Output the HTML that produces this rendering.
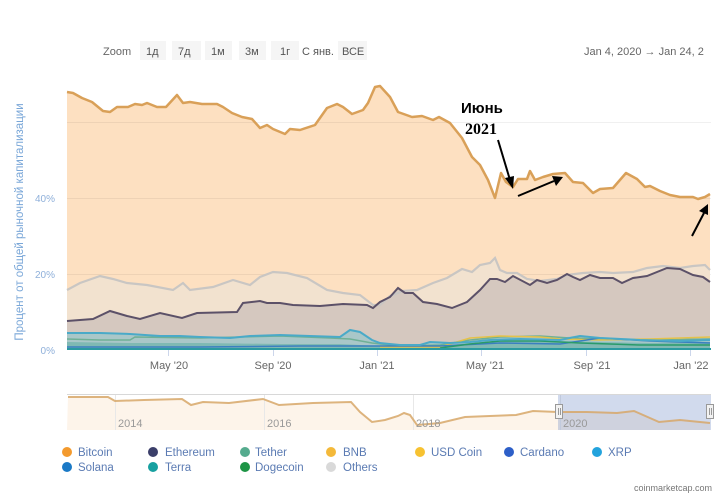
<!DOCTYPE html>
<html><head><meta charset="utf-8"><style>
html,body{margin:0;padding:0;background:#fff;}
body{width:720px;height:495px;overflow:hidden;font-family:"Liberation Sans","Noto Sans CJK SC",sans-serif;}
</style></head><body>
<svg width="720" height="495" viewBox="0 0 720 495" xmlns="http://www.w3.org/2000/svg" font-family="Liberation Sans, sans-serif">
<rect width="720" height="495" fill="#fff"/>
<!-- zoom bar -->
<text x="103" y="55" font-size="11" fill="#666">Zoom</text>
<g font-size="11" fill="#555">
<rect x="140" y="41" width="26" height="19" fill="#f5f5f5"/><text x="146" y="55">1д</text>
<rect x="172" y="41" width="29" height="19" fill="#f5f5f5"/><text x="178" y="55">7д</text>
<rect x="205" y="41" width="27" height="19" fill="#f5f5f5"/><text x="211" y="55">1м</text>
<rect x="239" y="41" width="27" height="19" fill="#f5f5f5"/><text x="245" y="55">3м</text>
<rect x="271" y="41" width="28" height="19" fill="#f5f5f5"/><text x="280" y="55">1г</text>
<text x="302" y="55">С янв.</text>
<rect x="338" y="41" width="29" height="19" fill="#f5f5f5"/><text x="342" y="55">ВСЕ</text>
</g>
<text x="584" y="55" font-size="11" fill="#666">Jan 4, 2020  →  Jan 24, 2</text>

<!-- y axis title -->
<text transform="translate(23,222) rotate(-90)" text-anchor="middle" font-size="11.5" fill="#7aa7d8">Процент от общей рыночной капитализации</text>
<g font-size="10" fill="#8fb0da" text-anchor="end">
<text x="55" y="202">40%</text>
<text x="55" y="278">20%</text>
<text x="55" y="354">0%</text>
</g>

<!-- bitcoin area -->
<polygon fill="#fde0c1" points="67,350 67,92 73,93 82,98 92,102 103,111 110,112 117,107 128,107 135,104 142,105 147,103 157,107 166,107 177,95 183,103 190,102 202,104 217,104 223,107 232,113 242,117 252,119 260,128 267,125 273,129 285,134 290,129 300,130 315,125 327,108 337,104 343,107 352,114 363,110 368,103 375,87 380,86 390,97 398,112 412,117 422,116 433,120 439,117 450,123 462,138 472,157 480,165 488,180 495,198 501,173 506,182 513,187 518,179 527,179 530,171 535,180 543,177 553,174 565,173 573,182 583,183 593,193 600,189 613,188 626,173 637,179 645,187 650,186 660,191 670,195 680,197 693,197 698,199 705,197 710,194 710,350"/>
<!-- gridlines -->
<g stroke="#000" stroke-opacity="0.06" stroke-width="1">
<line x1="67" y1="122.5" x2="711" y2="122.5"/>
<line x1="67" y1="198.5" x2="711" y2="198.5"/>
<line x1="67" y1="274.5" x2="711" y2="274.5"/>
</g>
<!-- others area -->
<polygon fill="#f2e2cf" points="67,350 67,290 80,283 100,276 113,279 127,283 147,285 173,290 183,283 190,290 213,287 233,280 250,285 260,277 273,272 287,273 307,278 327,290 343,293 360,295 373,305 380,305 390,296 403,291 417,290 433,283 447,278 462,269 472,272 480,265 490,263 495,258 500,270 507,273 517,273 527,279 540,281 557,279 567,275 583,273 600,272 613,273 633,272 647,268 663,266 680,268 693,266 705,265 710,270 710,350"/>
<!-- eth area -->
<polygon fill="#d5c8bf" points="67,350 67,321 93,319 110,311 127,316 140,319 160,313 182,318 197,313 237,312 243,303 260,301 267,303 280,303 293,305 320,306 343,304 367,305 373,308 380,302 390,297 398,288 405,293 413,293 423,302 437,304 452,308 467,302 480,290 490,279 497,279 505,282 513,276 530,285 537,280 547,283 557,280 567,274 573,277 580,280 590,275 600,278 613,278 622,283 633,278 647,276 667,268 680,269 693,275 703,277 710,282 710,350"/>
<!-- small coins -->
<polygon fill="#a9c7c8" points="67,350 67,333 100,333 130,334 160,336 180,336 200,337 230,338 250,336 280,335 310,336 340,337 350,330 360,332 372,340 380,343 400,345 420,345 430,342 450,343 470,342 490,338 520,337 560,338 580,335 600,337 640,339 680,339 710,338 710,350"/>
<polygon fill="#7fb9b3" points="67,350 67,342 130,343 200,343 280,344 340,344 380,346 440,346 470,343 500,341 560,341 600,342 650,343 710,342 710,350"/>
<polyline fill="none" stroke="#6fb096" stroke-width="1.5" points="67,339 100,340 130,340 135,337 200,338 280,336 330,338 350,339 372,343 400,346 440,345 470,340 500,337 540,336 570,338 600,339 650,340 710,339"/>
<polyline fill="none" stroke="#e4c24a" stroke-width="1.5" points="380,347 440,347 470,338 500,336 540,337 560,339 600,340 650,339 710,337"/>
<polyline fill="none" stroke="#3a7fc0" stroke-width="1.5" points="67,347 200,347 300,346 372,346 440,346 500,343 560,344 600,338 650,341 710,343"/>
<polyline fill="none" stroke="#2a9a6a" stroke-width="1.5" points="440,348 470,344 500,341 540,341 580,343 640,345 710,345"/>
<polyline fill="none" stroke="#4aaac8" stroke-width="2" points="67,333 100,333 130,334 160,336 180,336 200,337 230,338 250,336 280,335 310,336 340,337 350,330 360,332 372,340 380,343 400,345 420,345 430,342 450,343 470,342 490,340 520,339 560,340 580,336 600,338 640,340 680,341 710,340"/>
<line x1="67" y1="349" x2="711" y2="349" stroke="#2a9aa0" stroke-width="2"/>

<!-- series lines -->
<polyline fill="none" stroke="#c9c6c3" stroke-width="2.2" points="67,290 80,283 100,276 113,279 127,283 147,285 173,290 183,283 190,290 213,287 233,280 250,285 260,277 273,272 287,273 307,278 327,290 343,293 360,295 373,305 380,305 390,296 403,291 417,290 433,283 447,278 462,269 472,272 480,265 490,263 495,258 500,270 507,273 517,273 527,279 540,281 557,279 567,275 583,273 600,272 613,273 633,272 647,268 663,266 680,268 693,266 705,265 710,270"/>
<polyline fill="none" stroke="#5c5168" stroke-width="2" points="67,321 93,319 110,311 127,316 140,319 160,313 182,318 197,313 237,312 243,303 260,301 267,303 280,303 293,305 320,306 343,304 367,305 373,308 380,302 390,297 398,288 405,293 413,293 423,302 437,304 452,308 467,302 480,290 490,279 497,279 505,282 513,276 530,285 537,280 547,283 557,280 567,274 573,277 580,280 590,275 600,278 613,278 622,283 633,278 647,276 667,268 680,269 693,275 703,277 710,282"/>
<polyline fill="none" stroke="#d9a058" stroke-width="2.5" stroke-linejoin="round" points="67,92 73,93 82,98 92,102 103,111 110,112 117,107 128,107 135,104 142,105 147,103 157,107 166,107 177,95 183,103 190,102 202,104 217,104 223,107 232,113 242,117 252,119 260,128 267,125 273,129 285,134 290,129 300,130 315,125 327,108 337,104 343,107 352,114 363,110 368,103 375,87 380,86 390,97 398,112 412,117 422,116 433,120 439,117 450,123 462,138 472,157 480,165 488,180 495,198 501,173 506,182 513,187 518,179 527,179 530,171 535,180 543,177 553,174 565,173 573,182 583,183 593,193 600,189 613,188 626,173 637,179 645,187 650,186 660,191 670,195 680,197 693,197 698,199 705,197 710,194"/>

<!-- x axis ticks/labels -->
<g stroke="#ccd6eb" stroke-width="1">
<line x1="168.5" y1="350" x2="168.5" y2="356"/>
<line x1="273.5" y1="350" x2="273.5" y2="356"/>
<line x1="377.5" y1="350" x2="377.5" y2="356"/>
<line x1="481.5" y1="350" x2="481.5" y2="356"/>
<line x1="586.5" y1="350" x2="586.5" y2="356"/>
<line x1="690.5" y1="350" x2="690.5" y2="356"/>
</g>
<g font-size="11" fill="#666" text-anchor="middle">
<text x="169" y="369">May '20</text>
<text x="273" y="369">Sep '20</text>
<text x="377" y="369">Jan '21</text>
<text x="485" y="369">May '21</text>
<text x="592" y="369">Sep '21</text>
<text x="691" y="369">Jan '22</text>
</g>

<!-- annotation -->
<text x="461" y="113" font-size="15" font-weight="bold" fill="#000" font-family="Liberation Sans, sans-serif">Июнь</text>
<text x="465" y="134" font-size="16" font-weight="bold" fill="#000" font-family="Liberation Serif, serif">2021</text>
<g stroke="#000" stroke-width="2" fill="#000">
<line x1="498" y1="140" x2="510" y2="180"/>
<polygon points="513,189 505,178 514,176" stroke="none"/>
<line x1="518" y1="196" x2="554" y2="181"/>
<polygon points="563,177 552,176 556,186" stroke="none"/>
<line x1="692" y1="236" x2="704" y2="213"/>
<polygon points="708,204 699,211 708,215" stroke="none"/>
</g>

<!-- navigator -->
<rect x="67" y="394" width="644" height="36" fill="#fff"/>
<polygon fill="#fdf4ea" points="67,430 68,397 108,397 115,401 144,400 182,399 191,405 203,402 229,403 263,399 279,405 296,404 313,403 351,402 360,412 372,422 385,420 398,416 404,413 410,415 417,425 440,423 465,417 490,416 516,415 533,411 558,412 587,412 617,413 634,411 659,422 680,420 710,423 710,430"/>
<g stroke="#e8e8e8" stroke-width="1">
<line x1="115.5" y1="394" x2="115.5" y2="430"/>
<line x1="264.5" y1="394" x2="264.5" y2="430"/>
<line x1="413.5" y1="394" x2="413.5" y2="430"/>
<line x1="560.5" y1="394" x2="560.5" y2="430"/>
</g>
<rect x="558" y="394" width="153" height="36" fill="#6685c2" fill-opacity="0.3"/>
<line x1="67" y1="394.5" x2="711" y2="394.5" stroke="#d8d8d8"/>
<polyline fill="none" stroke="#d7a768" stroke-width="2" stroke-opacity="0.85" points="68,397 108,397 115,401 144,400 182,399 191,405 203,402 229,403 263,399 279,405 296,404 313,403 351,402 360,412 372,422 385,420 398,416 404,413 410,415 417,425 440,423 465,417 490,416 516,415 533,411 558,412 587,412 617,413 634,411 659,422 680,420 710,423"/>
<g font-size="11" fill="#999">
<text x="118" y="427">2014</text>
<text x="267" y="427">2016</text>
<text x="416" y="427">2018</text>
<text x="563" y="427">2020</text>
</g>
<g fill="#f2f2f2" stroke="#999" stroke-width="1">
<rect x="555.5" y="404.5" width="7" height="14"/>
<rect x="706.5" y="404.5" width="7" height="14"/>
</g>
<g stroke="#999" stroke-width="1">
<line x1="558.5" y1="408" x2="558.5" y2="415"/><line x1="560.5" y1="408" x2="560.5" y2="415"/>
<line x1="709.5" y1="408" x2="709.5" y2="415"/><line x1="711.5" y1="408" x2="711.5" y2="415"/>
</g>

<!-- legend -->
<g font-size="11.5" fill="#5b7bb3">
<circle cx="67" cy="452" r="5" fill="#f39a2e"/><text x="78" y="456">Bitcoin</text>
<circle cx="153" cy="452" r="5" fill="#3b3f6a"/><text x="165" y="456">Ethereum</text>
<circle cx="245" cy="452" r="5" fill="#55ab8e"/><text x="255" y="456">Tether</text>
<circle cx="331" cy="452" r="5" fill="#f4b93a"/><text x="343" y="456">BNB</text>
<circle cx="420" cy="452" r="5" fill="#f7c231"/><text x="431" y="456">USD Coin</text>
<circle cx="509" cy="452" r="5" fill="#2d5fc8"/><text x="520" y="456">Cardano</text>
<circle cx="597" cy="452" r="5" fill="#23a3dd"/><text x="608" y="456">XRP</text>
<circle cx="67" cy="467" r="5" fill="#1a79c6"/><text x="78" y="471">Solana</text>
<circle cx="153" cy="467" r="5" fill="#17a0a0"/><text x="165" y="471">Terra</text>
<circle cx="245" cy="467" r="5" fill="#1d9445"/><text x="255" y="471">Dogecoin</text>
<circle cx="331" cy="467" r="5" fill="#d9d9d9"/><text x="343" y="471">Others</text>
</g>
<text x="712" y="491" font-size="9" fill="#777" text-anchor="end">coinmarketcap.com</text>
</svg>
</body></html>
